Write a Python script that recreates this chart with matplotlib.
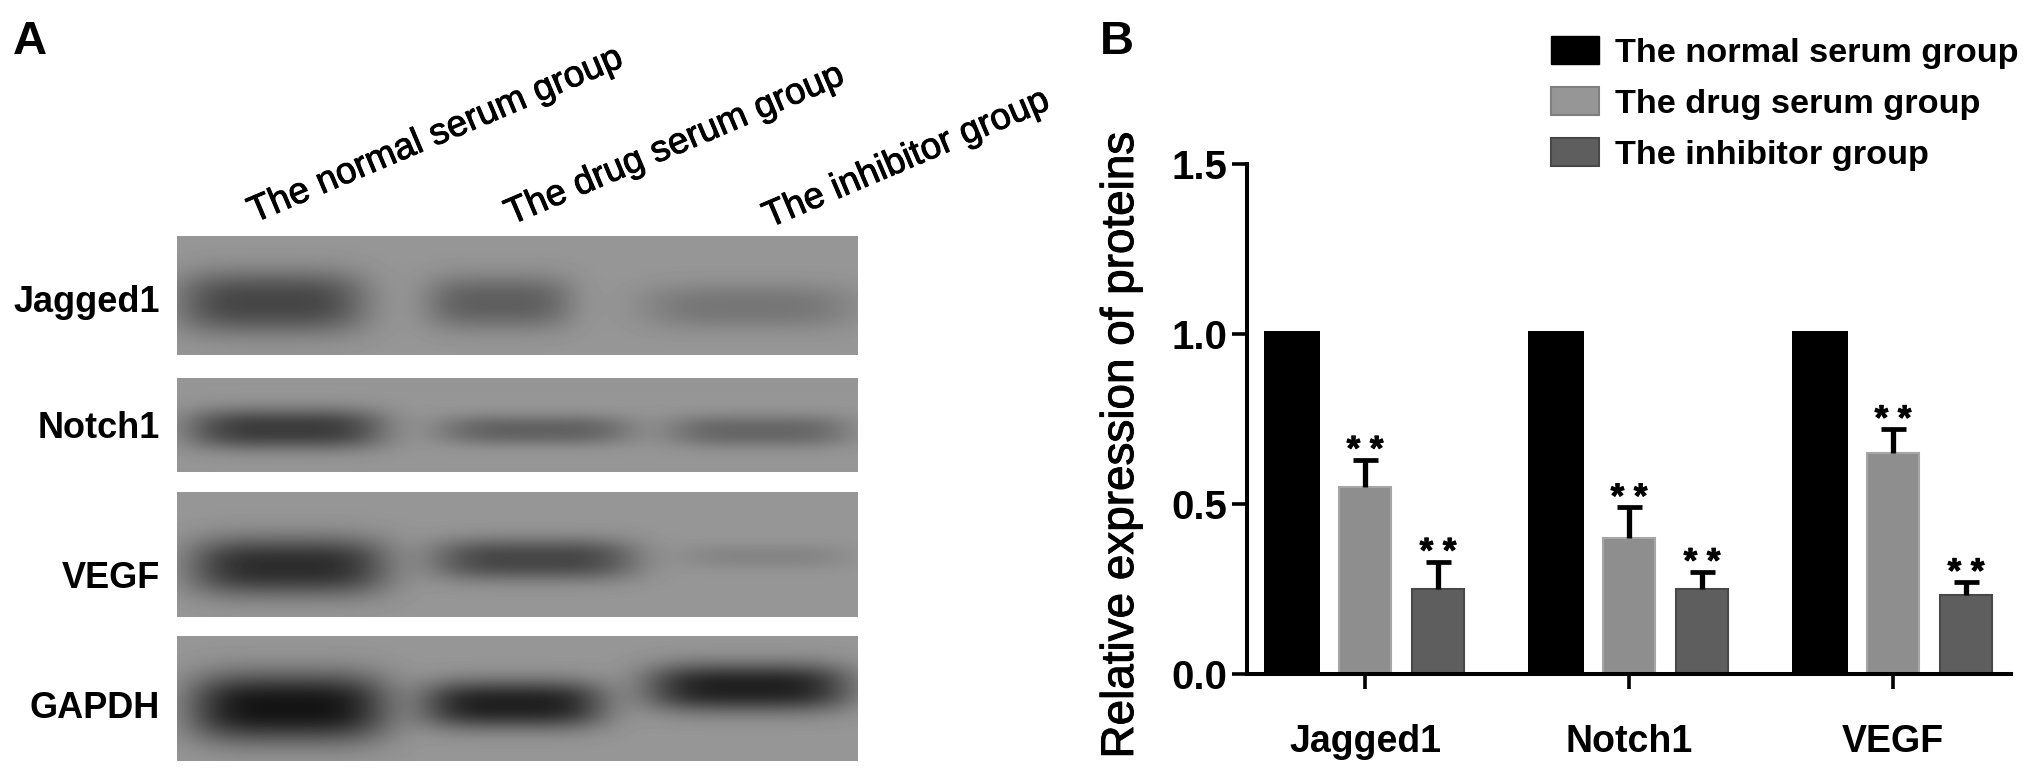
import numpy as np
import matplotlib
matplotlib.use('Agg')
import matplotlib.pyplot as plt
import matplotlib.patheffects as pe
from matplotlib.patches import Patch

plt.rcParams['font.family'] = ['Liberation Sans', 'DejaVu Sans']

W, H = 2031, 777

groups = ['The normal serum group', 'The drug serum group', 'The inhibitor group']
proteins = ['Jagged1', 'Notch1', 'VEGF']
blot_rows = ['Jagged1', 'Notch1', 'VEGF', 'GAPDH']

# panel B
normal_vals = [1.01, 1.01, 1.01]
drug_vals = [0.55, 0.40, 0.65]
drug_err = [0.08, 0.09, 0.07]
inhib_vals = [0.25, 0.25, 0.233]
inhib_err = [0.08, 0.05, 0.037]
y_ticks = [0.0, 0.5, 1.0, 1.5]

# panel A, one row per protein: top, bottom of the strip in pixels
strip_top = [236, 378, 492, 636]
strip_bottom = [355, 472, 617, 761]
strip_x = (177, 858)
# one entry per lane: left, right, centre y, half height, darkness
jagged_bands = [(178, 365, 302, 31, 80), (426, 572, 302, 27, 55), (642, 855, 306, 23, 32)]
notch_bands = [(188, 384, 429, 20, 90), (438, 632, 430, 15, 52), (668, 850, 431, 16, 48)]
vegf_bands = [(190, 387, 566, 29, 105), (432, 636, 559, 21, 80), (678, 850, 556, 13, 17)]
gapdh_bands = [(190, 387, 707, 34, 130), (422, 604, 704, 24, 118), (646, 850, 687, 24, 118)]
all_bands = [jagged_bands, notch_bands, vegf_bands, gapdh_bands]

heavier = [pe.withStroke(linewidth=0.7, foreground='black')]


def px_axes(fig, x0, y0, x1, y1):
    # y counted from the top of the image
    return fig.add_axes([x0 / W, 1 - y1 / H, (x1 - x0) / W, (y1 - y0) / H])


def draw_strip(fig, top, bottom, bands):
    xs = np.arange(strip_x[0], strip_x[1])
    ys = np.arange(top, bottom)
    xx, yy = np.meshgrid(xs, ys)
    img = np.full(xx.shape, 150.0)
    for left, right, cy, hh, dark in bands:
        cx = (left + right) / 2
        hw = (right - left) / 2
        img -= dark * np.exp(-np.abs((xx - cx) / hw) ** 4) * np.exp(-np.abs((yy - cy) / hh) ** 2.4)
    ax = px_axes(fig, strip_x[0], top, strip_x[1], bottom)
    ax.imshow(img, cmap='gray', vmin=0, vmax=255, aspect='auto')
    ax.axis('off')


def fig_text(fig, x, y, s, **kw):
    return fig.text(x / W, 1 - y / H, s, **kw)


def upper_err(ax, x, vals, errs):
    zeros = [0] * len(vals)
    eb = ax.errorbar(x, vals, yerr=[zeros, errs], fmt='none', ecolor='black',
                     elinewidth=3.8, capsize=9, capthick=3.4)
    eb[1][0].remove()  # no cap on the bar top


def stars(ax, x, vals, errs):
    for xi, v, e in zip(x, vals, errs):
        ax.text(xi, v + e, '* *', fontsize=25, fontweight='bold', ha='center',
                va='baseline', path_effects=heavier)


fig = plt.figure(figsize=(W / 100, H / 100), dpi=100)

# ---- panel A
fig_text(fig, 13, 54, 'A', fontsize=34, fontweight='bold', va='baseline')
fig_text(fig, 1100, 54, 'B', fontsize=34, fontweight='bold', va='baseline')

for top, bottom, bands in zip(strip_top, strip_bottom, all_bands):
    draw_strip(fig, top, bottom, bands)

for name, y in zip(blot_rows, [303, 428, 578, 709]):
    fig_text(fig, 160, y, name, fontsize=26, fontweight='bold', ha='right', va='center')

for name, x, y in zip(groups, [254, 511, 769], [223, 225, 228]):
    fig_text(fig, x, y, name, fontsize=26.5, rotation=23, rotation_mode='anchor',
             ha='left', va='baseline', path_effects=heavier)

# ---- panel B
ax = px_axes(fig, 1247, 164, 2011, 674)
pos = np.arange(len(proteins))
off = 0.2765
bw = 0.2

ax.bar(pos - off, normal_vals, 0.212, color='black')
ax.bar(pos, drug_vals, bw, color='#8e8e8e', edgecolor='#a6a6a6', linewidth=1.5)
ax.bar(pos + off, inhib_vals, bw, color='#5e5e5e', edgecolor='#484848', linewidth=1.5)

upper_err(ax, pos, drug_vals, drug_err)
upper_err(ax, pos + off, inhib_vals, inhib_err)
stars(ax, pos, drug_vals, drug_err)
stars(ax, pos + off, inhib_vals, inhib_err)

ax.set_xlim(-0.447, 2.447)
ax.set_ylim(0, 1.5)
ax.set_yticks(y_ticks)
ax.set_yticklabels([f'{v:.1f}' for v in y_ticks], fontsize=29, fontweight='bold')
ax.set_xticks(pos)
ax.set_xticklabels(proteins, fontsize=27, fontweight='bold')
ax.tick_params(axis='y', length=11, width=2.6, pad=3)
ax.tick_params(axis='x', length=11, width=2.6, pad=25)
for side in ['top', 'right']:
    ax.spines[side].set_visible(False)
for side in ['left', 'bottom']:
    ax.spines[side].set_linewidth(2.9)
ax.patch.set_alpha(0)

fig_text(fig, 1121, 445, 'Relative expression of proteins', fontsize=33, rotation=90,
         ha='center', va='center', path_effects=heavier)

handles = [Patch(facecolor='black', edgecolor='black'),
           Patch(facecolor='#969696', edgecolor='#7f7f7f', linewidth=1.5),
           Patch(facecolor='#5e5e5e', edgecolor='#484848', linewidth=1.5)]
fig.legend(handles, groups, loc='upper left', bbox_to_anchor=(1551 / W, 1 - 36 / H),
           borderaxespad=0, borderpad=0, frameon=False, handlelength=1.4, handleheight=0.87,
           handletextpad=0.47, labelspacing=0.53,
           prop={'size': 24.7, 'weight': 'bold'})

fig.savefig('out.png', dpi=100)
